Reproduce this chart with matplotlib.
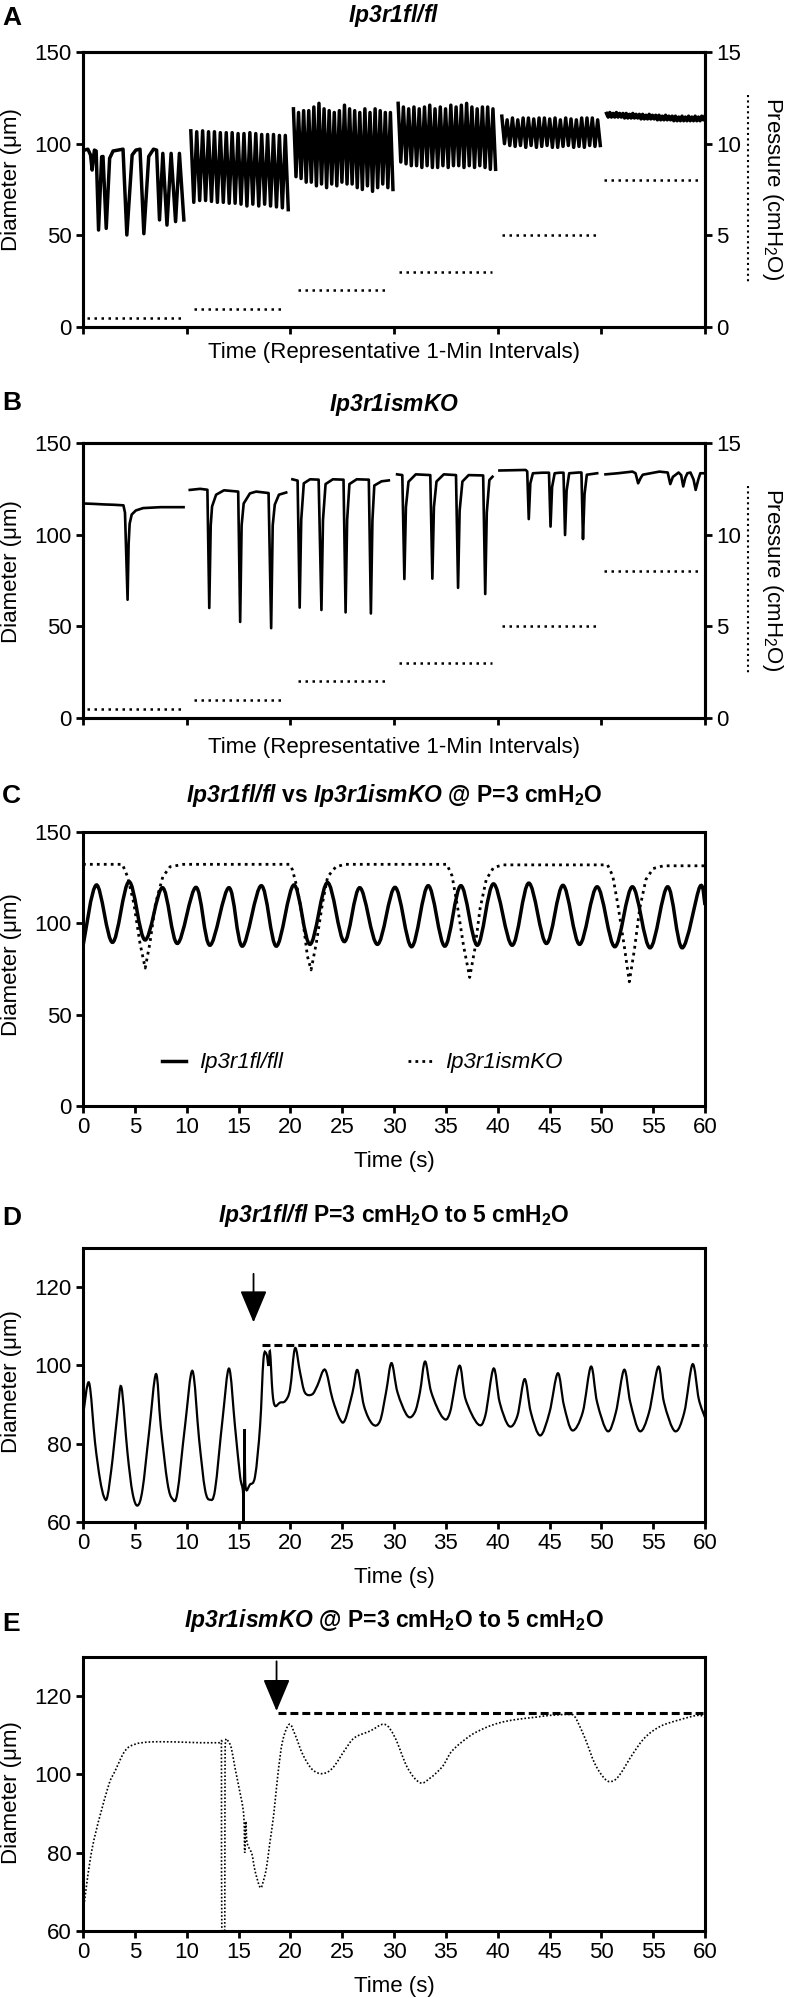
import numpy as np
import matplotlib
matplotlib.use('Agg')
import matplotlib.pyplot as plt
from matplotlib.lines import Line2D
from matplotlib.path import Path
from matplotlib.patches import PathPatch

plt.rcParams['font.family'] = ['Liberation Sans', 'DejaVu Sans']
plt.rcParams['mathtext.fontset'] = 'custom'
plt.rcParams['mathtext.it'] = 'Liberation Sans:italic:bold'
plt.rcParams['mathtext.rm'] = 'Liberation Sans:italic:bold'
plt.rcParams['mathtext.bf'] = 'Liberation Sans:bold'
plt.rcParams['mathtext.default'] = 'regular'

# ---------------- DATA ----------------
# Panel A (Ip3r1fl/fl), six 1-min intervals
A1_t = [0.015, 0.047, 0.073, 0.088, 0.11, 0.127, 0.15, 0.18, 0.193, 0.224, 0.257, 0.29, 0.386, 0.423,
        0.474, 0.51, 0.55, 0.587, 0.634, 0.68, 0.71, 0.738, 0.77, 0.81, 0.85, 0.893, 0.93, 0.973]
A1_d = [96.5, 97, 93.8, 85.6, 96.5, 96, 52.9, 92.9, 93, 53.8, 92, 96, 97, 50.2,
        93.8, 96.5, 97, 50.9, 93, 97, 96.5, 58.4, 94.7, 55.6, 94.7, 57.5, 94.7, 58.4]
A_seg_start = [1.04, 2.03, 3.04, 4.04, 5.05]
A_seg_end = [1.98, 2.99, 3.98, 4.99, 6.0]
A2_d = [107, 68, 106.5, 69, 107, 69, 106.5, 68.5, 106.5, 68, 106, 68, 106, 67.5, 106, 67.5, 105.5,
        67, 105.5, 66, 106, 67, 105.5, 66, 105, 67, 105, 66, 105, 65.5, 104.5, 65, 104.5, 64]
A3_d = [119, 82, 117, 81, 118, 79, 118, 79, 120, 77, 122, 78, 119, 76, 118, 78, 117, 77, 118, 79,
        121, 78, 119, 78, 118, 76, 117, 75, 119, 77, 117, 74, 119, 76, 118, 78, 117, 76, 117, 75]
A4_d = [122, 90, 120, 89, 119, 88, 120, 88, 119, 87, 120, 88, 121, 87, 119, 87, 120, 88, 119, 87,
        121, 88, 120, 88, 121, 87, 122, 88, 120, 87, 119, 88, 120, 87, 120, 86, 119, 86]
A5_d = [115, 100, 113, 99, 114, 98.5, 113, 99, 114, 98, 114, 99, 113.5, 98, 114, 98.5, 114, 99, 113.5,
        98, 114, 98, 113, 98.5, 114, 99, 113.5, 98, 113, 98.5, 114, 98, 114, 99, 114, 98.5, 113, 99]
A6_d = [116.5, 114.5, 117, 114.5, 116.5, 114.5, 117, 114.5, 116.5, 114.5, 116.5, 114, 116.5, 114,
        116, 114, 116.5, 114, 116, 114, 116, 113.5, 116, 113.5, 115.5, 113.5, 116, 113.5, 115.5, 113.5,
        115.5, 113, 115.5, 113, 115, 113, 115.5, 113, 115, 113, 115, 112.5, 115, 112.5, 114.5, 112.5,
        115, 112.5, 114.5, 112.5, 115, 112.5, 114.5, 112.5, 115, 112.5, 114.5, 112.5, 115, 113, 115]

# Pressure steps (cmH2O) shared by A and B
P_level = [0.5, 1, 2, 3, 5, 8]
P_start = [0.04, 1.07, 2.07, 3.05, 4.04, 5.03]
P_end = [0.955, 1.95, 2.95, 3.95, 4.96, 5.97]

# Panel B (Ip3r1ismKO)
B1_t = [0.005, 0.1, 0.2, 0.3, 0.39, 0.405, 0.43, 0.44, 0.45, 0.47, 0.51, 0.58, 0.75, 0.97]
B1_d = [117, 116.8, 116.5, 116.3, 116, 112, 64.5, 95, 106, 111, 113.2, 114.5, 115, 115]
B2_t = [1.03, 1.13, 1.2, 1.218, 1.232, 1.245, 1.284, 1.36, 1.497, 1.516, 1.53, 1.55, 1.61, 1.67,
        1.79, 1.815, 1.83, 1.85, 1.89, 1.96]
B2_d = [124.4, 125, 124.5, 60, 105, 115.4, 121.8, 124.2, 123.5, 52.4, 105, 117, 122.5, 123.5,
        122.7, 49, 105, 116.4, 121.8, 123]
B3_t = [2.02, 2.07, 2.09, 2.105, 2.13, 2.19, 2.273, 2.30, 2.315, 2.34, 2.41, 2.513, 2.533, 2.548,
        2.57, 2.64, 2.757, 2.777, 2.792, 2.81, 2.88, 2.95]
B3_d = [130.2, 129.5, 60.2, 108, 128, 130.2, 130, 58.9, 108, 127.6, 130.2, 130, 57.6, 108,
        127.6, 130.2, 130, 57, 108, 126.8, 129.1, 129.6]
B4_t = [3.03, 3.08, 3.10, 3.115, 3.14, 3.21, 3.35, 3.37, 3.385, 3.41, 3.48, 3.598, 3.618, 3.633,
        3.66, 3.72, 3.86, 3.88, 3.895, 3.92, 3.95]
B4_d = [132.9, 132.5, 75.8, 115, 128.9, 132.9, 132.5, 76, 115, 129, 132.9, 132.5, 71, 113,
        129, 132.5, 132.3, 67.6, 112, 129.8, 131.6]
B5_t = [4.017, 4.27, 4.285, 4.30, 4.315, 4.34, 4.43, 4.495, 4.51, 4.525, 4.55, 4.60, 4.635, 4.65,
        4.665, 4.69, 4.78, 4.808, 4.823, 4.838, 4.86, 4.96]
B5_d = [135, 135.3, 134.5, 108.5, 128, 133.5, 133.8, 133.8, 104.4, 126, 133.5, 133.8, 133.8, 99.8,
        124, 133.5, 133.9, 133.9, 97.6, 122, 132.7, 133.5]
B6_t = [5.04, 5.16, 5.30, 5.33, 5.355, 5.38, 5.40, 5.56, 5.64, 5.665, 5.69, 5.745, 5.77, 5.79,
        5.81, 5.83, 5.86, 5.89, 5.91, 5.935, 5.955, 6.0]
B6_d = [132.9, 133.5, 134.4, 133.5, 128, 131, 132.7, 134.4, 133.9, 127.6, 131.5, 133.9, 132.5, 126.3,
        131, 133.5, 133.9, 130, 124.4, 130, 133.5, 133.5]

# Panel C (P = 3 cmH2O): peaks and troughs of the fl/fl trace
C_fl_t = [0, 1.3, 2.85, 4.44, 5.98, 7.67, 9.1, 10.9, 12.24, 14.08, 15.37, 17.2, 18.65, 20.35, 21.9,
          23.58, 25.2, 26.7, 28.4, 30.1, 31.7, 33.3, 34.9, 36.45, 38.04, 39.6, 41.4, 43.0, 44.7, 46.3,
          47.9, 49.6, 51.3, 53.0, 54.7, 56.4, 57.8, 59.5, 60]
C_fl_d = [87.5, 121, 89.6, 122.8, 90.9, 119.5, 89, 119.7, 88, 119.5, 87.5, 120.6, 87.5, 121, 88.5,
          122.3, 90, 119.5, 88.5, 119.7, 87.2, 120.6, 87.5, 120.6, 88, 121.6, 88, 122, 89, 120.8,
          88.5, 120, 87.2, 120, 86.6, 120, 86.6, 120, 110]
C_ko_t = [0, 3.8, 4.3, 4.9, 5.5, 6.0, 6.45, 7.0, 7.7, 8.4, 9.7, 19.9, 20.2, 20.7, 21.2, 21.65, 22.0,
          22.5, 23.1, 23.6, 24.4, 25.3, 35.1, 35.6, 36.1, 36.7, 37.3, 37.8, 38.3, 38.9, 39.6, 40.5,
          50.6, 51.1, 51.6, 52.2, 52.7, 53.2, 53.7, 54.3, 55.0, 56.0, 60]
C_ko_d = [132.3, 132.3, 125.5, 111, 89, 75.5, 89, 111, 125.5, 131, 132.3, 132.3, 129.4, 118.4, 102, 82,
          74.5, 89, 111, 125.5, 131, 132.3, 132.3, 126, 110, 88, 70.4, 86, 108, 124, 130.5, 132,
          132, 126, 110, 88, 68, 86, 108, 124, 130, 131.5, 131.5]
C_labels = ['Ip3r1fl/fll', 'Ip3r1ismKO']

# Panel D (Ip3r1fl/fl, 3 -> 5 cmH2O)
D_t = [0, 0.58, 1.16, 1.64, 2.03, 2.36, 2.85, 3.33, 3.71, 4.29,
       4.78, 5.26, 5.74, 6.37, 7.04, 7.5, 8.15, 8.63, 9.1, 9.84,
       10.56, 11.2, 11.77, 12.25, 12.74, 13.46, 14.09, 14.66, 15.15, 15.44,
       15.49, 15.58, 15.68, 16.11, 16.6, 17.08, 17.41, 17.7, 17.9, 18.04,
       18.28, 18.52, 19.0, 19.5, 19.97, 20.45, 20.94, 21.4, 22.1, 22.6,
       23.35, 24.07, 24.8, 25.28, 26.0, 26.48, 27.1, 27.93, 28.65, 29.23,
       29.76, 30.34, 31.3, 32.0, 32.5, 33.0, 33.6, 34.7, 35.4, 36.3,
       36.9, 38.1, 38.8, 39.6, 40.2, 41.1, 41.9, 42.6, 43.2, 44.1,
       45.0, 45.8, 46.4, 47.2, 48.2, 49.0, 49.6, 50.6, 51.4, 52.2,
       52.8, 53.7, 54.6, 55.5, 56.05, 57.1, 58.0, 58.8, 59.4, 60]
D_d = [87.1, 95.6, 80.3, 70.9, 66.4, 66.6, 76, 88, 94.4, 77.7,
       67.4, 64.2, 68.3, 82.8, 97.8, 84.5, 70, 65.9, 67.4, 84.5,
       98.6, 81.1, 68.3, 65.7, 68.3, 86.2, 99.2, 84.5, 71.7, 67.4,
       57, 83.7, 69.1, 69.6, 71.7, 84.5, 101.6, 102.9, 99.9, 103.5,
       93.1, 89.7, 90.5, 90.9, 93.9, 104.4, 98.2, 93.1, 92.6, 94.8,
       98.9, 91.4, 86.2, 86.1, 93.1, 98.8, 89.7, 85, 85.8, 93.1,
       100.6, 93.1, 87.1, 88, 93.1, 101, 93.1, 86.7, 88, 99.9,
       91.4, 85, 87.1, 99.2, 90.5, 84.5, 87.1, 96.5, 88, 82.1,
       88, 98, 89.7, 83.4, 88, 99.7, 90.5, 83.2, 88, 98.9,
       90.5, 83.2, 88, 99.7, 90.5, 83.2, 88, 100.3, 91.4, 86.7]
D_ref_level = 105.2
D_ref_span = [17.3, 60.2]
D_arrow = [16.45, 123.4, 111.0]   # x, tail, tip

# Panel E (Ip3r1ismKO, 3 -> 5 cmH2O)
E_t = [0, 0.9, 2.4, 3.1, 4.05, 5.0, 6.5, 8.9, 11.3, 13.2,
       13.33, 13.36, 13.4, 13.65, 13.7, 13.75, 14.0, 14.3, 14.66, 15.05, 15.5, 15.6,
       15.7, 15.8, 16.0, 16.3, 16.6, 17.1, 17.4, 17.7, 18.0, 18.4,
       18.8, 19.25, 19.9, 20.45, 21.2, 22.1, 23.1, 24.1, 25.3, 26.2,
       27.7, 29.1, 30.1, 31.3, 32.5, 33.5, 34.7, 35.6, 37.3, 38.8,
       40.2, 41.7, 43.6, 45.1, 47.0, 47.5, 48.4, 49.4, 50.4, 51.1,
       51.8, 53.0, 54.2, 55.7, 57.6, 59.3, 60]
E_d = [64.7, 81.3, 96.6, 100.9, 106, 107.7, 108.3, 108.3, 108.1, 108.1,
       108, 100, 55, 55, 100, 108.4, 108.5, 106.8, 101.7, 96.6, 89.8, 80,
       88, 83, 81.3, 79.6, 75.3, 71.1, 72.8, 76.2, 82.1, 89.8,
       100, 108.5, 112.8, 110.2, 105.1, 101.3, 100.2, 101.7, 106.4, 109.4,
       111.1, 112.8, 109.4, 101.7, 97.9, 99.1, 102.1, 106, 109.8, 111.9,
       113.2, 114, 114.6, 115.1, 115.3, 114.5, 109.4, 102.6, 98.7, 98.3,
       100, 105.1, 109.4, 112.3, 114, 115.1, 114.6]
E_ref_level = 115.6
E_ref_span = [18.8, 60.0]
E_arrow = [18.67, 128.9, 116.2]

# ---------------- FIGURE ----------------
W, H = 786, 1998
fig = plt.figure(figsize=(W / 100, H / 100), dpi=100)


def rect(top, bottom, left=83, right=705):
    return [left / W, 1 - bottom / H, (right - left) / W, (bottom - top) / H]


def fy(y):
    return 1 - y / H


def style(ax):
    for s in ax.spines.values():
        s.set_linewidth(2.2)
    ax.tick_params(direction='out', length=5, width=2, labelsize=16, pad=3, colors='k')


def smooth_path(t, d):
    """Smooth (Catmull-Rom as cubic Bezier) path through the listed data points."""
    P = np.column_stack([t, d]).astype(float)
    Q = np.vstack([P[0], P, P[-1]])
    verts = [P[0]]
    codes = [Path.MOVETO]
    for i in range(len(P) - 1):
        p0, p1, p2, p3 = Q[i], Q[i + 1], Q[i + 2], Q[i + 3]
        verts += [p1 + (p2 - p0) / 6, p2 - (p3 - p1) / 6, p2]
        codes += [Path.CURVE4] * 3
    return Path(verts, codes)


DOT = (0, (1, 1.8))
axA = fig.add_axes(rect(52, 327))
axB = fig.add_axes(rect(443, 718))
axC = fig.add_axes(rect(832, 1106))
axD = fig.add_axes(rect(1248, 1522))
axE = fig.add_axes(rect(1657, 1931))

A_traces = [(A1_t, A1_d)] + [(np.linspace(s, e, len(v)), v) for s, e, v in
                             zip(A_seg_start, A_seg_end, [A2_d, A3_d, A4_d, A5_d, A6_d])]
B_traces = [(B1_t, B1_d), (B2_t, B2_d), (B3_t, B3_d), (B4_t, B4_d), (B5_t, B5_d), (B6_t, B6_d)]

for ax, traces, lw, ycen in [(axA, A_traces, 2.5, 52 + 137), (axB, B_traces, 1.9, 443 + 137)]:
    for t, d in traces:
        ax.plot(t, d, color='k', lw=lw)
    ax.set_xlim(0, 6)
    ax.set_ylim(0, 150)
    ax.set_xticks(range(7))
    ax.set_yticks([0, 50, 100, 150])
    style(ax)
    ax.tick_params(axis='x', labelbottom=False)
    ax2 = ax.twinx()
    for lvl, s, e in zip(P_level, P_start, P_end):
        ax2.plot([s, e], [lvl, lvl], color='k', lw=1.8, linestyle=DOT)
    ax2.set_ylim(0, 15)
    ax2.set_yticks([0, 5, 10, 15])
    style(ax2)
    fig.text(772 / W, fy(ycen), r'Pressure (cmH$_2$O)', rotation=270, ha='center', va='center', fontsize=16)
    fig.add_artist(Line2D([748 / W, 748 / W], [fy(ycen - 94), fy(ycen + 93)], transform=fig.transFigure,
                          color='k', lw=1.5, linestyle=(0, (1, 1.6))))

# Panel C
axC.add_patch(PathPatch(smooth_path(C_fl_t, C_fl_d), fill=False, lw=2.5, edgecolor='k'))
axC.plot(C_ko_t, C_ko_d, color='k', lw=2.0, linestyle=(0, (1, 1.5)))
axC.set_ylim(0, 150)
axC.set_yticks([0, 50, 100, 150])
handles = [Line2D([], [], color='k', lw=2.5), Line2D([], [], color='k', lw=2.0, linestyle=(0, (1, 1.5)))]
axC.legend(handles, C_labels, ncol=2, frameon=False, loc='center', bbox_to_anchor=(0.449, 0.157),
           prop={'style': 'italic', 'size': 16}, handlelength=1.1, handletextpad=0.6, columnspacing=5.6)

# Panel D
axD.add_patch(PathPatch(smooth_path(D_t, D_d), fill=False, lw=1.6, edgecolor='k'))
axD.plot(D_ref_span, [D_ref_level] * 2, color='k', lw=2.2, linestyle=(0, (2.6, 1.3)), clip_on=False)
axD.annotate('', xy=(D_arrow[0], D_arrow[2]), xytext=(D_arrow[0], D_arrow[1]),
             arrowprops=dict(arrowstyle='-|>,head_length=1.0,head_width=0.42', mutation_scale=20,
                             lw=1.3, color='k', shrinkA=0, shrinkB=0))

# Panel E
axE.add_patch(PathPatch(smooth_path(E_t, E_d), fill=False, lw=1.2, edgecolor='k',
                        linestyle=(0, (1, 1.2))))
axE.plot(E_ref_span, [E_ref_level] * 2, color='k', lw=2.2, linestyle=(0, (2.6, 1.3)), clip_on=False)
axE.annotate('', xy=(E_arrow[0], E_arrow[2]), xytext=(E_arrow[0], E_arrow[1]),
             arrowprops=dict(arrowstyle='-|>,head_length=1.0,head_width=0.42', mutation_scale=20,
                             lw=1.3, color='k', shrinkA=0, shrinkB=0))

for ax in (axD, axE):
    ax.set_ylim(60, 130)
    ax.set_yticks([60, 80, 100, 120])
for ax in (axC, axD, axE):
    ax.set_xlim(0, 60)
    ax.set_xticks(range(0, 61, 5))
    style(ax)

# Titles, panel letters, axis labels
titles = [r'$\mathit{Ip3r1fl/fl}$',
          r'$\mathit{Ip3r1ismKO}$',
          r'$\mathit{Ip3r1fl/fl}$ vs $\mathit{Ip3r1ismKO}$ @ P=3 cmH$_2$O',
          r'$\mathit{Ip3r1fl/fl}$ P=3 cmH$_2$O to 5 cmH$_2$O',
          r'$\mathit{Ip3r1ismKO}$ @ P=3 cmH$_2$O to 5 cmH$_2$O']
title_base = [22, 411, 802, 1222, 1627]
letters = ['A', 'B', 'C', 'D', 'E']
letter_base = [25, 410, 803, 1225, 1631]
ylab_c = [180, 572, 965, 1382, 1793]
xlabels = ['Time (Representative 1-Min Intervals)', 'Time (Representative 1-Min Intervals)',
           'Time (s)', 'Time (s)', 'Time (s)']
xlab_base = [358, 753, 1167, 1583, 1992]
for i in range(5):
    fig.text(394 / W, fy(title_base[i]), titles[i], ha='center', va='baseline', fontsize=16.5,
             fontweight='bold')
    fig.text(2 / W, fy(letter_base[i]), letters[i], ha='left', va='baseline', fontsize=19,
             fontweight='bold')
    fig.text(12 / W, fy(ylab_c[i]), 'Diameter (μm)', rotation=90, ha='center', va='center', fontsize=16)
    fig.text(394 / W, fy(xlab_base[i]), xlabels[i], ha='center', va='baseline', fontsize=16)

fig.savefig('out.png', dpi=100)
